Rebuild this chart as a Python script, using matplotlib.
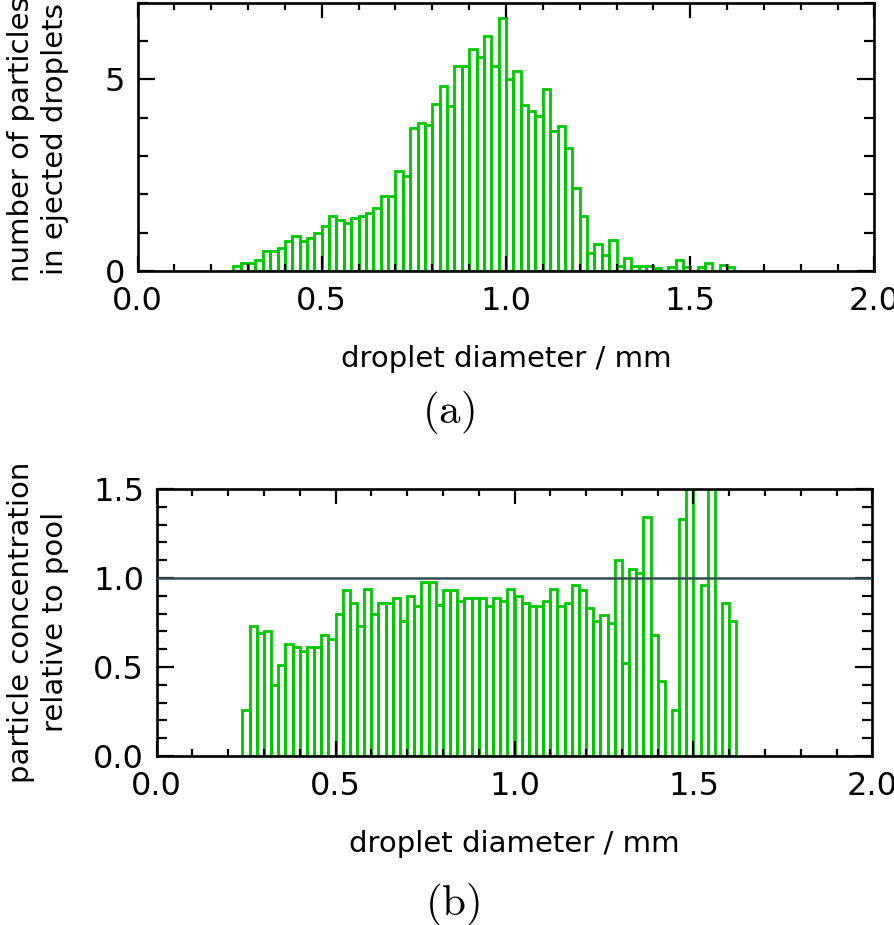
import numpy as np
import matplotlib
matplotlib.use('Agg')
import matplotlib.pyplot as plt

plt.rcParams['font.family'] = 'DejaVu Sans'
plt.rcParams['mathtext.fontset'] = 'cm'

# bin width of both histograms (mm)
bin_width = 0.02

# (a) number of particles in ejected droplets, bins starting at 0.26 mm
top_start = 0.26
top_counts = [0.14, 0.21, 0.21, 0.28, 0.52, 0.52, 0.59, 0.79, 0.92, 0.79,
              0.86, 0.99, 1.18, 1.44, 1.32, 1.25, 1.38, 1.44, 1.51, 1.64,
              1.96, 1.96, 2.62, 2.47, 3.74, 3.85, 3.80, 4.37, 4.82, 4.30,
              5.36, 5.36, 5.80, 5.59, 6.13, 5.36, 6.59, 5.02, 5.22, 4.32,
              4.17, 4.04, 4.76, 3.65, 3.78, 3.21, 2.16, 1.44, 0.46, 0.71,
              0.42, 0.81, 0.13, 0.33, 0.13, 0.13, 0.13, 0.07, 0.0, 0.10,
              0.29, 0.10, 0.0, 0.10, 0.20, 0.0, 0.15, 0.10]

# (b) particle concentration relative to pool, bins starting at 0.24 mm
bot_start = 0.24
bot_ratio = [0.26, 0.73, 0.69, 0.70, 0.40, 0.51, 0.63, 0.61, 0.59, 0.61,
             0.61, 0.68, 0.66, 0.80, 0.93, 0.86, 0.73, 0.94, 0.80, 0.86,
             0.86, 0.89, 0.76, 0.90, 0.84, 0.98, 0.98, 0.85, 0.93, 0.93,
             0.87, 0.89, 0.89, 0.89, 0.84, 0.89, 0.87, 0.94, 0.90, 0.86,
             0.84, 0.84, 0.87, 0.94, 0.84, 0.86, 0.96, 0.93, 0.83, 0.76,
             0.79, 0.75, 1.10, 0.52, 1.05, 1.03, 1.34, 0.68, 0.42, 0.0,
             0.26, 1.33, 1.70, 0.0, 0.96, 1.80, 0.0, 0.86, 0.76]

green = '#00c800'
fs = 21       # axis labels
tfs = 23      # tick labels

fig = plt.figure(figsize=(8.95, 9.25), dpi=100)
W, H = 895.0, 925.0

def style_axes(ax, xmajor_len=11, ymajor_len=12):
    for s in ax.spines.values():
        s.set_linewidth(1.9)
    ax.set_xlim(0, 2.0)
    ax.set_xticks(np.arange(0, 2.01, 0.5))
    ax.set_xticks(np.arange(0, 2.01, 0.1), minor=True)
    ax.xaxis.set_major_formatter(matplotlib.ticker.FormatStrFormatter('%.1f'))
    ax.tick_params(which='both', direction='in', top=True, right=True,
                   width=1.6, labelsize=tfs, colors='black')
    ax.tick_params(axis='x', which='major', length=xmajor_len, pad=11)
    ax.tick_params(axis='x', which='minor', length=5)
    ax.tick_params(axis='y', which='major', length=ymajor_len, pad=9)
    ax.tick_params(axis='y', which='minor', length=7)

# ---------------- (a)
ax1 = fig.add_axes([137.5 / W, 1 - 271 / H, 737 / W, 268.3 / H])
x1 = top_start + bin_width * np.arange(len(top_counts))
ax1.bar(x1, top_counts, width=bin_width, align='edge', fill=False,
        edgecolor=green, linewidth=2.0)
style_axes(ax1)
ax1.set_ylim(0, 7)
ax1.set_yticks([0, 5])
ax1.set_yticks(np.arange(0, 7.01, 1), minor=True)
ax1.set_xlabel('droplet diameter / mm', fontsize=fs, labelpad=20)
fig.text(38 / W, 1 - 139 / H, 'number of particles\nin ejected droplets',
         rotation=90, ha='center', va='center', fontsize=fs,
         multialignment='center', linespacing=1.3)
fig.text(448 / W, 1 - 413 / H, r'$\mathrm{(a)}$', ha='center', va='center',
         fontsize=31)

# ---------------- (b)
ax2 = fig.add_axes([156.5 / W, 1 - 756 / H, 716 / W, 267 / H])
x2 = bot_start + bin_width * np.arange(len(bot_ratio))
ax2.bar(x2, bot_ratio, width=bin_width, align='edge', fill=False,
        edgecolor=green, linewidth=2.0)
ax2.axhline(1.0, color='#2f4f4f', linewidth=1.8, zorder=3)
style_axes(ax2)
ax2.set_ylim(0, 1.5)
ax2.set_yticks(np.arange(0, 1.51, 0.5))
ax2.set_yticks(np.arange(0, 1.51, 0.1), minor=True)
ax2.yaxis.set_major_formatter(matplotlib.ticker.FormatStrFormatter('%.1f'))
ax2.set_xlabel('droplet diameter / mm', fontsize=fs, labelpad=20)
fig.text(38 / W, 1 - 622 / H, 'particle concentration\nrelative to pool',
         rotation=90, ha='center', va='center', fontsize=fs,
         multialignment='center', linespacing=1.3)
fig.text(453 / W, 1 - 905 / H, r'$\mathrm{(b)}$', ha='center', va='center',
         fontsize=31)

fig.savefig('out.png', dpi=100)
